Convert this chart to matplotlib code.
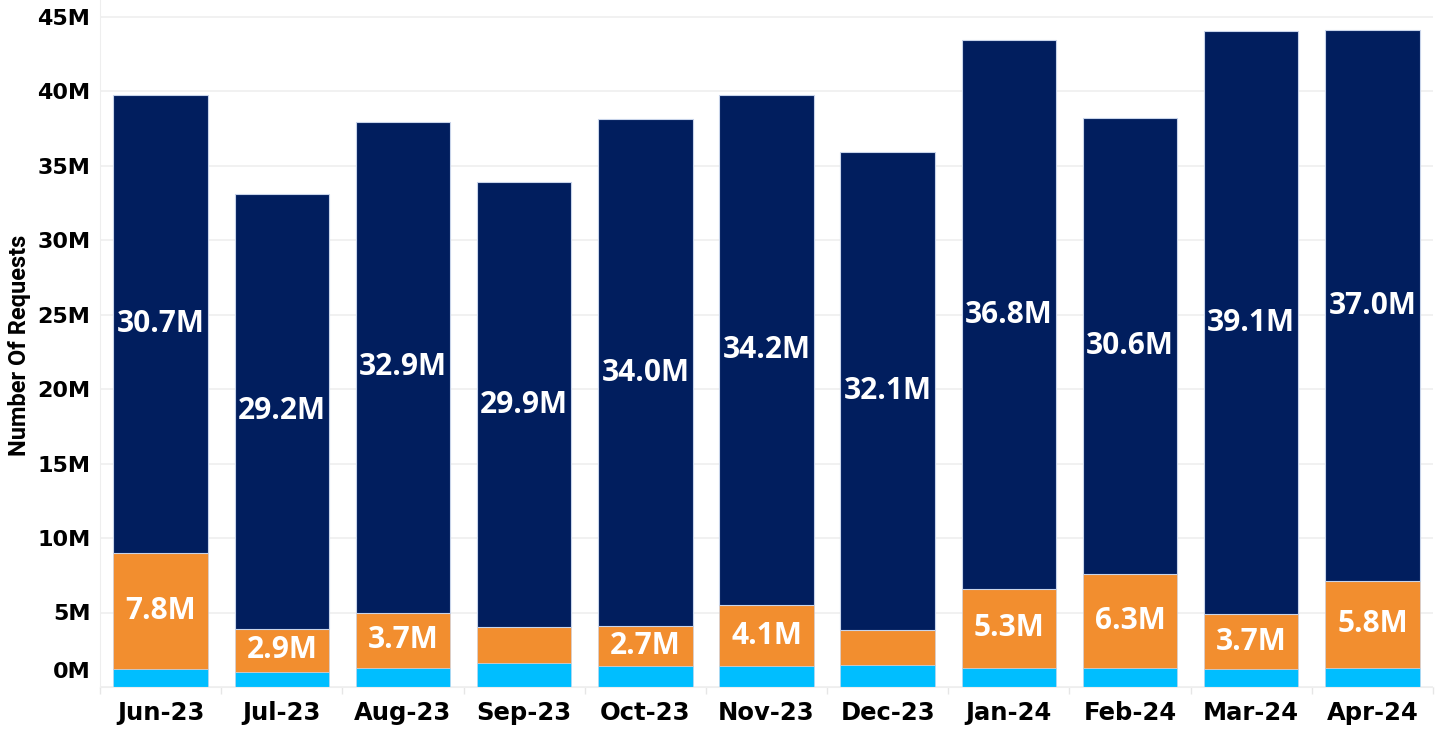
import matplotlib
matplotlib.use("Agg")
import matplotlib.pyplot as plt
import matplotlib.transforms as mtransforms
import numpy as np

months = ["Jun-23", "Jul-23", "Aug-23", "Sep-23", "Oct-23", "Nov-23",
          "Dec-23", "Jan-24", "Feb-24", "Mar-24", "Apr-24"]
light_blue = [1.2, 1.0, 1.3, 1.6, 1.4, 1.4, 1.5, 1.3, 1.3, 1.2, 1.3]
orange = [7.8, 2.9, 3.7, 2.4, 2.7, 4.1, 2.3, 5.3, 6.3, 3.7, 5.8]
navy = [30.7, 29.2, 32.9, 29.9, 34.0, 34.2, 32.1, 36.8, 30.6, 39.1, 37.0]
yticks = [0, 5, 10, 15, 20, 25, 30, 35, 40, 45]
ytick_labels = ["0M", "5M", "10M", "15M", "20M", "25M", "30M", "35M", "40M", "45M"]

C_LB = "#00BEFF"
C_OR = "#F28E2F"
C_NV = "#011E5E"

fig = plt.figure(figsize=(14.36, 7.31), dpi=100)
ax = fig.add_axes([100/1436, 44/731, 1333/1436, 687/731])

x = np.arange(len(months))
w = 0.78
lb = np.array(light_blue)
orr = np.array(orange)
nv = np.array(navy)

ax.bar(x, lb, w, color=C_LB, edgecolor="#c8d4ea", linewidth=0.4, zorder=2)
ax.bar(x, orr, w, bottom=lb, color=C_OR, edgecolor="#c8d4ea", linewidth=0.4, zorder=2)
ax.bar(x, nv, w, bottom=lb + orr, color=C_NV, edgecolor="#c8d4ea", linewidth=0.8, zorder=2)

lab_font = dict(family="Open Sans", weight="bold", size=21.5, color="white",
                ha="center", va="center", zorder=3)
for i in range(len(months)):
    ax.text(x[i], lb[i] + orr[i] + nv[i] / 2, f"{nv[i]:.1f}M", **lab_font)
    if orr[i] >= 2.5:
        ax.text(x[i], lb[i] + orr[i] / 2, f"{orr[i]:.1f}M", **lab_font)

ax.set_xlim(-0.5, len(months) - 0.5)
ax.set_ylim(0, 687/14.9)
ax.set_yticks(yticks)
# 0M label is drawn separately (shifted upward as in the reference)
ax.set_yticklabels([""] + ytick_labels[1:])
ax.set_xticks(x)
ax.set_xticklabels(months)

for t in ax.get_yticklabels():
    t.set_fontfamily("DejaVu Sans")
    t.set_fontweight("bold")
    t.set_fontsize(16)
for t in ax.get_xticklabels():
    t.set_fontfamily("DejaVu Sans")
    t.set_fontweight("bold")
    t.set_fontsize(17.5)

ytrans = mtransforms.blended_transform_factory(ax.transAxes, ax.transData)
ax.annotate(ytick_labels[0], xy=(0, yticks[0]), xycoords=ytrans,
            xytext=(-7, 11), textcoords="offset points",
            ha="right", va="center", fontfamily="DejaVu Sans",
            fontweight="bold", fontsize=16, annotation_clip=False)

ax.tick_params(axis="y", length=0, pad=7)
ax.tick_params(axis="x", length=0, pad=10)

# minor separator ticks between categories
ax.set_xticks(np.arange(-0.5, len(months) + 0.5, 1), minor=True)
ax.tick_params(axis="x", which="minor", length=5, color="#e6e6e6", width=1)

ax.grid(axis="y", color="#efefef", linewidth=1.2, zorder=0)
ax.set_axisbelow(True)
for s in ["top", "right"]:
    ax.spines[s].set_visible(False)
ax.spines["left"].set_color("#eeeeee")
ax.spines["bottom"].set_color("#eeeeee")

ax.set_ylabel("Number Of Requests", fontfamily="Roboto",
              fontweight="bold", fontsize=17, va="center")
ax.yaxis.set_label_coords(-0.0605, 0.497)

fig.savefig("out.png", dpi=100)
